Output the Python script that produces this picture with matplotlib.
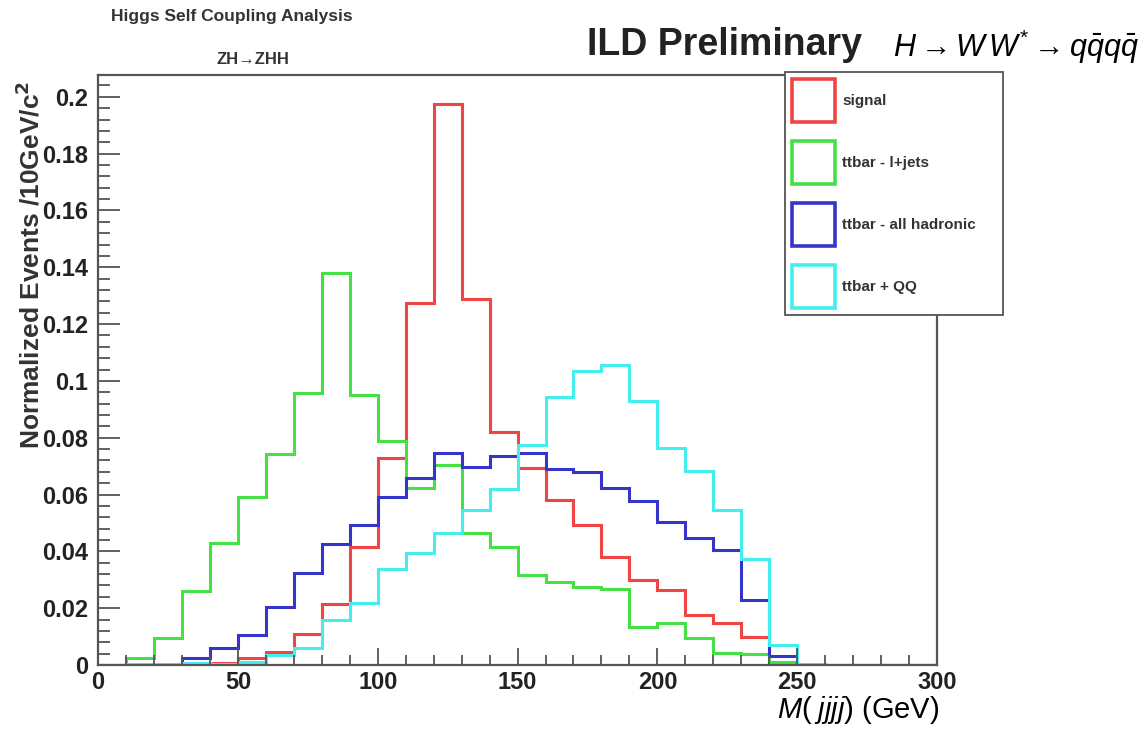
import numpy as np
import matplotlib
matplotlib.use('Agg')
import matplotlib.pyplot as plt
from matplotlib.patches import Patch
from matplotlib.ticker import MultipleLocator, FuncFormatter

# ── Data: normalized M(jjjj) histograms, 10 GeV bins from 0 to 300 ──
bin_edges = np.arange(0, 310, 10)

signal = [0, 0, 0, 0, 0.0008, 0.0025, 0.0046, 0.011, 0.0215, 0.0416,
          0.073, 0.1275, 0.1975, 0.129, 0.082, 0.0693, 0.058, 0.0493, 0.038, 0.030,
          0.0264, 0.0176, 0.0148, 0.0099, 0.0012, 0, 0, 0, 0, 0]
ttbar_ljets = [0, 0.0025, 0.0095, 0.026, 0.043, 0.059, 0.0743, 0.0958, 0.138, 0.095,
               0.079, 0.0623, 0.0704, 0.0465, 0.0416, 0.0317, 0.0292, 0.0275, 0.0267, 0.0134,
               0.0148, 0.0095, 0.0042, 0.004, 0.0012, 0, 0, 0, 0, 0]
ttbar_had = [0, 0, 0, 0.0025, 0.006, 0.0106, 0.0205, 0.0323, 0.0426, 0.0493,
             0.059, 0.066, 0.0747, 0.0697, 0.0736, 0.0747, 0.069, 0.068, 0.0623, 0.0577,
             0.0503, 0.0447, 0.0405, 0.0229, 0.003, 0, 0, 0, 0, 0]
ttbar_qq = [0, 0.0003, 0.0003, 0.0008, 0.0005, 0.001, 0.0035, 0.006, 0.0158, 0.0218,
            0.0338, 0.0394, 0.0465, 0.0546, 0.062, 0.0775, 0.0944, 0.1035, 0.1055, 0.093,
            0.0765, 0.0683, 0.0546, 0.0373, 0.007, 0.0005, 0, 0, 0, 0]

labels = ["signal", "ttbar - l+jets", "ttbar - all hadronic", "ttbar + QQ"]
colors = ["#f04545", "#45e045", "#3535cc", "#45eeee"]

# ── Style ─────────────────────────────────────────────────────────
plt.rcParams.update({
    "font.family": "Liberation Sans",
    "mathtext.fontset": "custom",
    "mathtext.rm": "Liberation Sans",
    "mathtext.it": "Liberation Sans:italic",
})

fig = plt.figure(figsize=(11.4, 7.38), dpi=100)
ax = fig.add_axes([0.086, 0.0989, 0.736, 0.7995])

for vals, col in zip([signal, ttbar_ljets, ttbar_had, ttbar_qq], colors):
    ax.stairs(vals, bin_edges, color=col, lw=2.2, baseline=None)

ax.set_xlim(0, 300)
ax.set_ylim(0, 0.2077)
ax.xaxis.set_major_locator(MultipleLocator(50))
ax.xaxis.set_minor_locator(MultipleLocator(10))
ax.yaxis.set_major_locator(MultipleLocator(0.02))
ax.yaxis.set_minor_locator(MultipleLocator(0.004))
ax.yaxis.set_major_formatter(FuncFormatter(lambda v, p: "0" if v == 0 else f"{v:g}"))

for s in ax.spines.values():
    s.set_color("#555555")
    s.set_linewidth(1.6)
ax.tick_params(axis="y", which="major", direction="in", length=16, width=1.3,
               color="#555555", pad=7, labelsize=17)
ax.tick_params(axis="y", which="minor", direction="in", length=8.5, width=1.3,
               color="#555555")
ax.tick_params(axis="x", which="major", direction="in", length=12, width=1.3,
               color="#555555", pad=4, labelsize=17)
ax.tick_params(axis="x", which="minor", direction="in", length=7, width=1.3,
               color="#555555")
for lab in ax.get_xticklabels() + ax.get_yticklabels():
    lab.set_fontweight("bold")
    lab.set_color("#222222")

# ── Legend ────────────────────────────────────────────────────────
handles = [Patch(facecolor="white", edgecolor=c, linewidth=2.6) for c in colors]
leg = fig.legend(handles, labels, loc="upper left",
                 bbox_to_anchor=(0.6886, 0.573, 0.1912, 0.329),
                 mode="expand", prop={"weight": "bold", "size": 11},
                 handlelength=2.8, handleheight=3.95, labelspacing=1.25,
                 handletextpad=0.5, borderpad=0.45, borderaxespad=0,
                 fancybox=False, framealpha=1, edgecolor="#555555")
leg.get_frame().set_linewidth(1.3)
for t in leg.get_texts():
    t.set_color("#333333")

# ── Texts ─────────────────────────────────────────────────────────
fig.text(0.097, 0.977, "Higgs Self Coupling Analysis", fontsize=12.5,
         fontweight="bold", color="#333333", va="center")
fig.text(0.222, 0.92, "ZH\u2192ZHH", fontsize=12, fontweight="bold",
         color="#333333", ha="center", va="center")
fig.text(0.515, 0.9255, "ILD Preliminary", fontsize=27, fontweight="bold",
         color="#222222", va="baseline")
fig.text(0.783, 0.9228, r"$H \rightarrow W\,W^{*} \rightarrow q\bar{q}q\bar{q}$",
         fontsize=22, va="baseline")
fig.text(0.6816, 0.0265, r"$M(\;jjjj)$ (GeV)", fontsize=21, va="baseline")
fig.text(0.027, 0.641, r"Normalized Events /10GeV/c$^{\mathbf{2}}$", fontsize=19,
         fontweight="bold", color="#333333", rotation=90, ha="center", va="center")

fig.savefig("out.png", dpi=100)
